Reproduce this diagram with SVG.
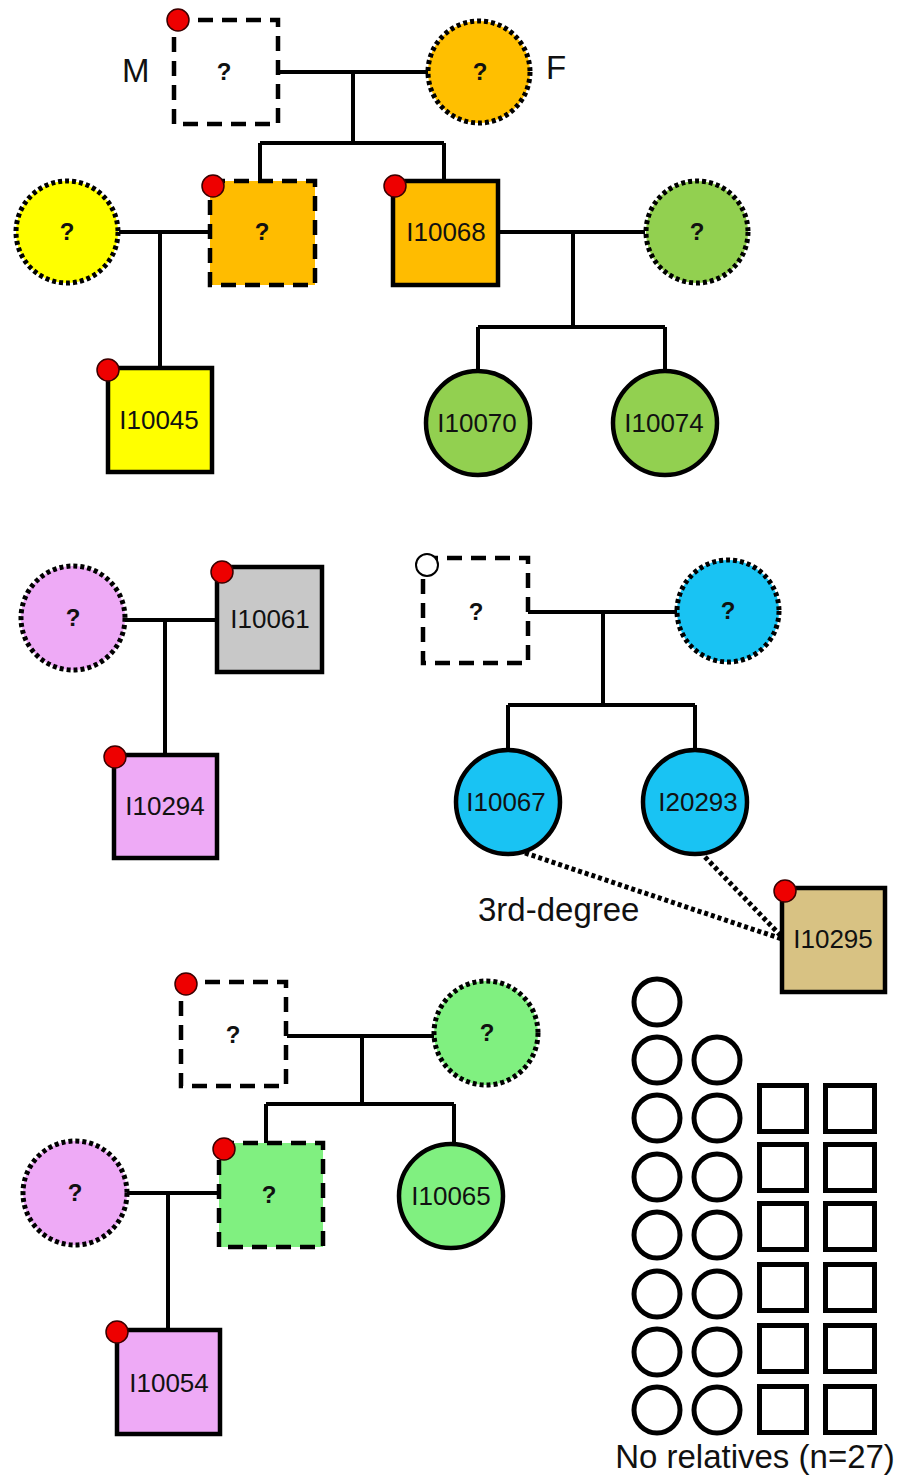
<svg xmlns="http://www.w3.org/2000/svg" width="906" height="1477" viewBox="0 0 906 1477">
  <style>
    .solid { stroke: #000; stroke-width: 4.5; }
    .dash { stroke: #000; stroke-width: 4.5; stroke-dasharray: 15 9; }
    .dot { stroke: #000; stroke-width: 5; stroke-dasharray: 4 3; }
    .line { stroke: #000; stroke-width: 4; fill: none; }
    .dotline { stroke: #000; stroke-width: 5; fill: none; stroke-dasharray: 4 3; }
    .mark { fill: #ee0000; stroke: #3a0000; stroke-width: 1.5; }
    .open { fill: #fff; stroke: #000; stroke-width: 2; }
    .id { font-family: "Liberation Sans", Arial, sans-serif; font-size: 26px; fill: #111; text-anchor: middle; }
    .q { font-family: "Liberation Sans", Arial, sans-serif; font-size: 24px; font-weight: bold; fill: #111; text-anchor: middle; }
    .lab { font-family: "Liberation Sans", Arial, sans-serif; font-size: 33px; fill: #111; }
    .none { fill: #fff; stroke: #000; stroke-width: 5; }
  </style>

  <!-- connectors -->
  <g id="connectors">
    <!-- family 1 -->
    <path class="line" d="M278 72 H428 M353 72 V143 M260 143 H444 M260 143 V181 M444 143 V181"/>
    <path class="line" d="M119 232 H210 M160 232 V368"/>
    <path class="line" d="M498 232 H645 M573 232 V327 M478 327 H665 M478 327 V372 M665 327 V372"/>
    <!-- family 2 -->
    <path class="line" d="M125 620 H217 M165 620 V755"/>
    <!-- family 3 -->
    <path class="line" d="M528 612 H677 M603 612 V705 M508 705 H695 M508 705 V750 M695 705 V750"/>
    <path class="dotline" d="M525 853 L782 939 M705 857 L782 937"/>
    <!-- family 4 -->
    <path class="line" d="M287 1036 H434 M362 1036 V1104 M266 1104 H454 M266 1104 V1143 M454 1104 V1144"/>
    <path class="line" d="M127 1193 H219 M168 1193 V1330"/>
  </g>

  <!-- family 1 -->
  <g id="f1-father">
    <rect class="dash" x="174" y="20" width="104" height="104" fill="#fff"/>
    <circle class="mark" cx="178" cy="20" r="11"/>
    <text class="q" x="224" y="80" font-size="21">?</text>
    <text class="lab" x="122" y="82">M</text>
  </g>
  <g id="f1-mother">
    <circle class="dot" cx="479" cy="72" r="51" fill="#ffbf00"/>
    <text class="q" x="480" y="80">?</text>
    <text class="lab" x="546" y="79">F</text>
  </g>
  <g id="f1-yellow-mate">
    <circle class="dot" cx="67" cy="232" r="51" fill="#ffff00"/>
    <text class="q" x="67" y="240">?</text>
  </g>
  <g id="f1-son">
    <rect class="dash" x="210" y="181" width="105" height="104" fill="#ffbc00"/>
    <circle class="mark" cx="213" cy="186" r="11"/>
    <text class="q" x="262" y="240">?</text>
  </g>
  <g id="I10068">
    <rect class="solid" x="393" y="181" width="105" height="104" fill="#ffbc00"/>
    <circle class="mark" cx="395" cy="186" r="11"/>
    <text class="id" x="446" y="241">I10068</text>
  </g>
  <g id="f1-green-mate">
    <circle class="dot" cx="697" cy="232" r="51" fill="#92d050"/>
    <text class="q" x="697" y="240">?</text>
  </g>
  <g id="I10045">
    <rect class="solid" x="108" y="368" width="104" height="104" fill="#ffff00"/>
    <circle class="mark" cx="108" cy="370" r="11"/>
    <text class="id" x="159" y="429">I10045</text>
  </g>
  <g id="I10070">
    <circle class="solid" cx="478" cy="423" r="52" fill="#92d050"/>
    <text class="id" x="477" y="432">I10070</text>
  </g>
  <g id="I10074">
    <circle class="solid" cx="665" cy="423" r="52" fill="#92d050"/>
    <text class="id" x="664" y="432">I10074</text>
  </g>

  <!-- family 2 -->
  <g id="f2-mate">
    <circle class="dot" cx="73" cy="618" r="52" fill="#eeaaf6"/>
    <text class="q" x="73" y="626">?</text>
  </g>
  <g id="I10061">
    <rect class="solid" x="217" y="567" width="105" height="105" fill="#c8c8c8"/>
    <circle class="mark" cx="222" cy="572" r="11"/>
    <text class="id" x="270" y="628">I10061</text>
  </g>
  <g id="I10294">
    <rect class="solid" x="114" y="755" width="103" height="103" fill="#eeaaf6"/>
    <circle class="mark" cx="115" cy="757" r="11"/>
    <text class="id" x="165" y="815">I10294</text>
  </g>

  <!-- family 3 -->
  <g id="f3-father">
    <rect class="dash" x="423" y="558" width="105" height="105" fill="#fff"/>
    <circle class="open" cx="427" cy="565" r="11"/>
    <text class="q" x="476" y="620" font-weight="normal">?</text>
  </g>
  <g id="f3-mother">
    <circle class="dot" cx="728" cy="611" r="51" fill="#19c3f3"/>
    <text class="q" x="728" y="619">?</text>
  </g>
  <g id="I10067">
    <circle class="solid" cx="508" cy="802" r="52" fill="#19c3f3"/>
    <text class="id" x="506" y="811">I10067</text>
  </g>
  <g id="I20293">
    <circle class="solid" cx="695" cy="802" r="52" fill="#19c3f3"/>
    <text class="id" x="698" y="811">I20293</text>
  </g>
  <g id="I10295">
    <rect class="solid" x="782" y="888" width="103" height="104" fill="#d8c283"/>
    <circle class="mark" cx="785" cy="891" r="11"/>
    <text class="id" x="833" y="948">I10295</text>
  </g>
  <text class="lab" x="478" y="921" font-size="24">3rd-degree</text>

  <!-- family 4 -->
  <g id="f4-father">
    <rect class="dash" x="181" y="982" width="105" height="104" fill="#fff"/>
    <circle class="mark" cx="186" cy="984" r="11"/>
    <text class="q" x="233" y="1043" font-size="21">?</text>
  </g>
  <g id="f4-mother">
    <circle class="dot" cx="486" cy="1033" r="52" fill="#80f080"/>
    <text class="q" x="487" y="1041">?</text>
  </g>
  <g id="f4-son">
    <rect class="dash" x="219" y="1143" width="104" height="104" fill="#80f080"/>
    <circle class="mark" cx="224" cy="1149" r="11"/>
    <text class="q" x="269" y="1203">?</text>
  </g>
  <g id="I10065">
    <circle class="solid" cx="451" cy="1196" r="52" fill="#80f080"/>
    <text class="id" x="451" y="1205">I10065</text>
  </g>
  <g id="f4-mate">
    <circle class="dot" cx="75" cy="1193" r="52" fill="#eeaaf6"/>
    <text class="q" x="75" y="1201">?</text>
  </g>
  <g id="I10054">
    <rect class="solid" x="117" y="1330" width="103" height="104" fill="#eeaaf6"/>
    <circle class="mark" cx="117" cy="1332" r="11"/>
    <text class="id" x="169" y="1392">I10054</text>
  </g>

  <!-- unrelated individuals -->
  <g id="no-relatives">
    <g id="females">
      <circle class="none" cx="657" cy="1002" r="23"/>
      <circle class="none" cx="657" cy="1060" r="23"/>
      <circle class="none" cx="657" cy="1118" r="23"/>
      <circle class="none" cx="657" cy="1177" r="23"/>
      <circle class="none" cx="657" cy="1235" r="23"/>
      <circle class="none" cx="657" cy="1294" r="23"/>
      <circle class="none" cx="657" cy="1352" r="23"/>
      <circle class="none" cx="657" cy="1410" r="23"/>
      <circle class="none" cx="717" cy="1060" r="23"/>
      <circle class="none" cx="717" cy="1118" r="23"/>
      <circle class="none" cx="717" cy="1177" r="23"/>
      <circle class="none" cx="717" cy="1235" r="23"/>
      <circle class="none" cx="717" cy="1294" r="23"/>
      <circle class="none" cx="717" cy="1352" r="23"/>
      <circle class="none" cx="717" cy="1410" r="23"/>
    </g>
    <g id="males">
      <rect class="none" x="759.5" y="1085.5" width="47" height="46"/>
      <rect class="none" x="759.5" y="1144.5" width="47" height="46"/>
      <rect class="none" x="759.5" y="1203.5" width="47" height="46"/>
      <rect class="none" x="759.5" y="1264.5" width="47" height="46"/>
      <rect class="none" x="759.5" y="1325.5" width="47" height="46"/>
      <rect class="none" x="759.5" y="1386.5" width="47" height="46"/>
      <rect class="none" x="825.5" y="1085.5" width="49" height="46"/>
      <rect class="none" x="825.5" y="1144.5" width="49" height="46"/>
      <rect class="none" x="825.5" y="1203.5" width="49" height="46"/>
      <rect class="none" x="825.5" y="1264.5" width="49" height="46"/>
      <rect class="none" x="825.5" y="1325.5" width="49" height="46"/>
      <rect class="none" x="825.5" y="1386.5" width="49" height="46"/>
    </g>
    <text class="lab" x="755" y="1468" font-size="34" text-anchor="middle">No relatives (n=27)</text>
  </g>
</svg>
